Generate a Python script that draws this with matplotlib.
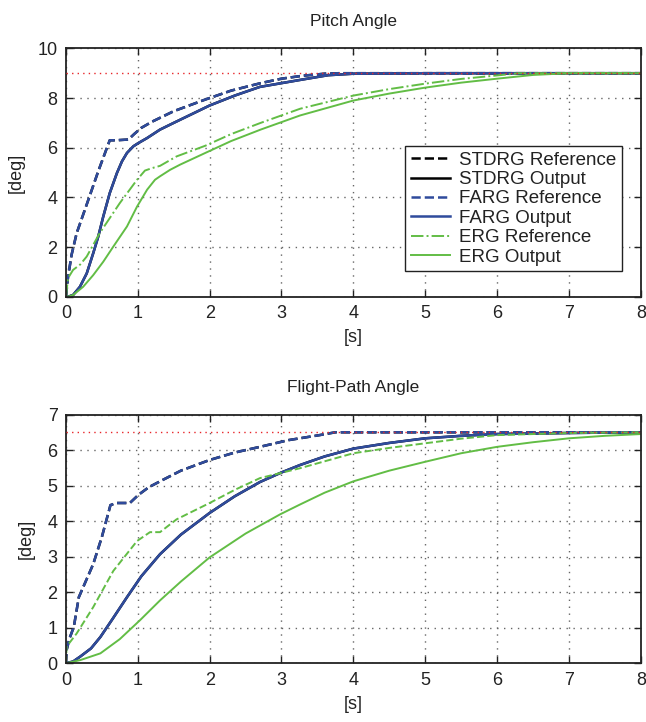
import matplotlib.pyplot as plt

plt.rcParams['font.family'] = ['Liberation Sans', 'DejaVu Sans']

# Pitch angle (top panel)
pitch_farg_ref_t = [0, 0.03, 0.08, 0.15, 0.3, 0.45, 0.61, 0.7, 0.87, 0.95, 1.05, 1.2, 1.5, 1.94, 2.3, 2.71, 3.0, 3.3, 3.6, 3.8, 8]
pitch_farg_ref = [0, 0.8, 1.7, 2.56, 3.8, 5.05, 6.3, 6.3, 6.33, 6.55, 6.8, 7.05, 7.47, 7.94, 8.3, 8.6, 8.78, 8.9, 8.98, 9.0, 9.0]
pitch_farg_out_t = [0, 0.05, 0.1, 0.195, 0.29, 0.38, 0.45, 0.52, 0.61, 0.71, 0.78, 0.85, 0.94, 1.01, 1.13, 1.31, 1.5, 1.75, 2.0, 2.35, 2.7, 3.0, 3.3, 3.65, 4.0, 5, 6, 7, 8]
pitch_farg_out = [0, 0.02, 0.07, 0.4, 0.94, 1.75, 2.42, 3.23, 4.17, 4.98, 5.45, 5.79, 6.06, 6.19, 6.39, 6.73, 7.0, 7.35, 7.7, 8.1, 8.45, 8.6, 8.75, 8.92, 8.98, 9.0, 9.0, 9.0, 9.0]
pitch_erg_ref_t = [0, 0.03, 0.1, 0.2, 0.29, 0.47, 0.75, 0.99, 1.1, 1.2, 1.31, 1.54, 1.94, 2.3, 2.71, 3.26, 4.0, 4.5, 5.0, 5.5, 6.0, 6.3, 8]
pitch_erg_ref = [0, 0.75, 1.08, 1.3, 1.62, 2.56, 3.77, 4.71, 5.08, 5.18, 5.27, 5.65, 6.08, 6.55, 7.0, 7.57, 8.1, 8.36, 8.58, 8.77, 8.91, 9.0, 9.0]
pitch_erg_out_t = [0, 0.05, 0.1, 0.24, 0.38, 0.52, 0.66, 0.85, 0.99, 1.13, 1.24, 1.31, 1.45, 1.59, 1.94, 2.3, 2.71, 3.26, 4.0, 4.5, 5.0, 5.5, 6.0, 6.5, 7, 8]
pitch_erg_out = [0, 0.02, 0.07, 0.4, 0.87, 1.41, 2.02, 2.83, 3.63, 4.31, 4.71, 4.85, 5.11, 5.32, 5.79, 6.27, 6.73, 7.3, 7.9, 8.18, 8.42, 8.62, 8.78, 8.93, 9.0, 9.0]
pitch_cmd = 9.0

# Flight-path angle (bottom panel)
fpa_farg_ref_t = [0, 0.01, 0.05, 0.11, 0.18, 0.38, 0.5, 0.62, 0.7, 0.89, 1.01, 1.15, 1.31, 1.6, 2.0, 2.35, 2.7, 3.1, 3.53, 3.75, 8]
fpa_farg_ref = [0, 0.37, 0.7, 1.02, 1.86, 2.79, 3.55, 4.45, 4.51, 4.51, 4.74, 4.95, 5.12, 5.42, 5.72, 5.93, 6.09, 6.28, 6.42, 6.5, 6.5]
fpa_farg_out_t = [0, 0.1, 0.2, 0.35, 0.48, 0.65, 0.85, 1.05, 1.31, 1.6, 2.0, 2.35, 2.7, 3.0, 3.26, 3.6, 4.0, 4.5, 5.0, 5.5, 6.0, 7.0, 8]
fpa_farg_out = [0, 0.05, 0.19, 0.42, 0.74, 1.25, 1.86, 2.45, 3.07, 3.62, 4.23, 4.7, 5.1, 5.37, 5.58, 5.82, 6.04, 6.2, 6.33, 6.4, 6.45, 6.48, 6.5]
fpa_erg_ref_t = [0, 0.01, 0.15, 0.38, 0.66, 0.99, 1.17, 1.31, 1.54, 2.0, 2.35, 2.7, 3.26, 4.0, 4.5, 5.0, 5.5, 6.0, 7.0, 8]
fpa_erg_ref = [0, 0.47, 0.84, 1.58, 2.6, 3.44, 3.69, 3.69, 4.05, 4.51, 4.88, 5.21, 5.49, 5.91, 6.06, 6.19, 6.32, 6.42, 6.48, 6.5]
fpa_erg_out_t = [0, 0.2, 0.48, 0.75, 1.03, 1.31, 1.6, 2.0, 2.5, 2.98, 3.26, 3.6, 4.0, 4.5, 5.0, 5.5, 6.0, 6.5, 7.0, 7.5, 8]
fpa_erg_out = [0, 0.09, 0.28, 0.68, 1.21, 1.77, 2.3, 2.98, 3.65, 4.19, 4.47, 4.8, 5.12, 5.42, 5.67, 5.91, 6.09, 6.22, 6.33, 6.4, 6.45]
fpa_cmd = 6.5

# STDRG coincides with FARG (hidden underneath)
pitch_std_ref_t, pitch_std_ref = pitch_farg_ref_t, pitch_farg_ref
pitch_std_out_t, pitch_std_out = pitch_farg_out_t, pitch_farg_out
fpa_std_ref_t, fpa_std_ref = fpa_farg_ref_t, fpa_farg_ref
fpa_std_out_t, fpa_std_out = fpa_farg_out_t, fpa_farg_out

blue = '#2F4B9C'
green = '#62BD45'
txt = '#222222'

fig = plt.figure(figsize=(6.46, 7.22), dpi=100)
ax1 = fig.add_axes([0.102, 0.589, 0.890, 0.344])
ax2 = fig.add_axes([0.102, 0.0813, 0.890, 0.3446])


def style(ax, ymax, title):
    ax.set_xlim(0, 8)
    ax.set_ylim(0, ymax)
    ax.set_xticks(range(0, 9))
    ax.grid(True, linestyle=(0, (1, 4)), color='#666666', linewidth=1.0)
    ax.tick_params(direction='in', top=True, right=True, length=5, width=1.0,
                   labelsize=13, pad=6, colors=txt)
    for s in ax.spines.values():
        s.set_linewidth(1.3)
        s.set_color('#222222')
    ax.set_xlabel('[s]', fontsize=13, color=txt, labelpad=5)
    ax.set_ylabel('[deg]', fontsize=13, color=txt, labelpad=9)
    ax.set_title(title, fontsize=12.5, color=txt, pad=16)


# top panel
ax1.plot(pitch_std_ref_t, pitch_std_ref, '--', color='black', lw=1.8, label='STDRG Reference')
ax1.plot(pitch_std_out_t, pitch_std_out, '-', color='black', lw=1.8, label='STDRG Output')
ax1.plot(pitch_farg_ref_t, pitch_farg_ref, '--', color=blue, lw=1.8, label='FARG Reference')
ax1.plot(pitch_farg_out_t, pitch_farg_out, '-', color=blue, lw=1.8, label='FARG Output')
ax1.plot(pitch_erg_ref_t, pitch_erg_ref, '-.', color=green, lw=1.4, label='ERG Reference')
ax1.plot(pitch_erg_out_t, pitch_erg_out, '-', color=green, lw=1.4, label='ERG Output')
ax1.axhline(pitch_cmd, color='#E8262A', linestyle=(0, (1, 3)), lw=1.0, zorder=5)
style(ax1, 10, 'Pitch Angle')
ax1.set_yticks(range(0, 11, 2))
leg = ax1.legend(loc='upper left', bbox_to_anchor=(0.59, 0.607), borderaxespad=0,
                 fontsize=13.5, frameon=True, fancybox=False, edgecolor='#222222',
                 framealpha=1, labelspacing=0.12, handlelength=2.1, handletextpad=0.5,
                 borderpad=0.3)
leg.get_frame().set_linewidth(1.0)
for t in leg.get_texts():
    t.set_color(txt)

# bottom panel
ax2.plot(fpa_std_ref_t, fpa_std_ref, '--', color='black', lw=1.8)
ax2.plot(fpa_std_out_t, fpa_std_out, '-', color='black', lw=1.8)
ax2.plot(fpa_farg_ref_t, fpa_farg_ref, '--', color=blue, lw=1.8)
ax2.plot(fpa_farg_out_t, fpa_farg_out, '-', color=blue, lw=1.8)
ax2.plot(fpa_erg_ref_t, fpa_erg_ref, '--', color=green, lw=1.4)
ax2.plot(fpa_erg_out_t, fpa_erg_out, '-', color=green, lw=1.4)
ax2.axhline(fpa_cmd, color='#E8262A', linestyle=(0, (1, 3)), lw=1.0, zorder=5)
style(ax2, 7, 'Flight-Path Angle')
ax2.set_yticks(range(0, 8))

fig.savefig('out.png', dpi=100)
